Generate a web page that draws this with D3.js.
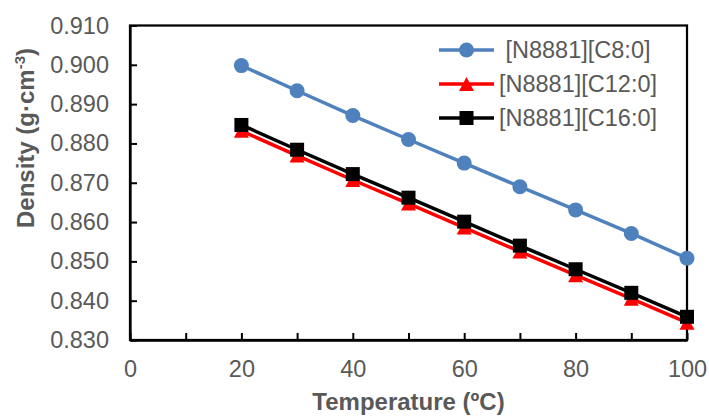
<!DOCTYPE html>
<html><head><meta charset="utf-8">
<script src="https://cdn.jsdelivr.net/npm/d3@7"></script>
<style>
html,body{margin:0;padding:0;background:#fff;}
svg{display:block;font-family:"Liberation Sans",Arial,sans-serif;}
</style></head>
<body>
<svg id="chart" width="709" height="417"></svg>
<script>
const temperatures = [20, 30, 40, 50, 60, 70, 80, 90, 100];
const densityC8 = [0.8998, 0.8934, 0.8871, 0.8810, 0.8750, 0.8690, 0.8631, 0.8571, 0.8508];
const densityC12 = [0.8832, 0.8769, 0.8707, 0.8647, 0.8586, 0.8525, 0.8465, 0.8405, 0.8344];
const densityC16 = [0.8847, 0.8784, 0.8722, 0.8662, 0.8601, 0.8540, 0.8480, 0.8420, 0.8359];
const seriesNames = ["[N8881][C8:0]", "[N8881][C12:0]", "[N8881][C16:0]"];
const xTickValues = [0, 10, 20, 30, 40, 50, 60, 70, 80, 90, 100];
const yTickValues = [0.83, 0.84, 0.85, 0.86, 0.87, 0.88, 0.89, 0.90, 0.91];
const xTitle = "Temperature (ºC)";

const svg = d3.select("#chart");
const L = 130, R = 687, T = 25.5, B = 340;
const x = d3.scaleLinear().domain([0, 100]).range([L, R]);
const y = d3.scaleLinear().domain([0.83, 0.91]).range([B, T]);
const grey = "#595959";

const series = [
  {name: seriesNames[0], values: densityC8, color: "#4F81BD", shape: "circle"},
  {name: seriesNames[1], values: densityC12, color: "#FF0000", shape: "triangle"},
  {name: seriesNames[2], values: densityC16, color: "#000000", shape: "square"}
];

// frame
svg.append("rect").attr("x", L).attr("y", T).attr("width", R - L).attr("height", B - T)
  .attr("fill", "none").attr("stroke", "#000").attr("stroke-width", 2.25);

// axes
const yAxis = d3.axisLeft(y).tickValues(yTickValues).tickFormat(d3.format(".3f"))
  .tickSizeInner(-7).tickSizeOuter(0).tickPadding(21);
const gy = svg.append("g").attr("transform", `translate(${L},0)`).call(yAxis);
gy.select(".domain").attr("stroke", "#000").attr("stroke-width", 2.25);
gy.selectAll(".tick line").attr("stroke", "#000").attr("stroke-width", 2);
gy.selectAll(".tick text").attr("fill", grey).style("font-size", "23.5px")
  .style("font-family", "'Liberation Sans',Arial,sans-serif");

const xAxis = d3.axisBottom(x).tickValues(xTickValues)
  .tickFormat(d => d % 20 === 0 ? d3.format("d")(d) : "")
  .tickSizeInner(-7).tickSizeOuter(0).tickPadding(20);
const gx = svg.append("g").attr("transform", `translate(0,${B})`).call(xAxis);
gx.select(".domain").attr("stroke", "#000").attr("stroke-width", 2.25);
gx.selectAll(".tick line").attr("stroke", "#000").attr("stroke-width", 2);
gx.selectAll(".tick text").attr("fill", grey).style("font-size", "23.5px")
  .style("font-family", "'Liberation Sans',Arial,sans-serif");

// marker drawing
function drawMarker(g, shape, color) {
  if (shape === "circle") {
    g.append("circle").attr("r", 7.5).attr("fill", color);
  } else if (shape === "square") {
    g.append("rect").attr("x", -7).attr("y", -7).attr("width", 14).attr("height", 14).attr("fill", color);
  } else {
    g.append("path").attr("d", "M0,-7 L7.5,7 L-7.5,7 Z").attr("fill", color);
  }
}

const line = d3.line().x(d => x(d[0])).y(d => y(d[1]));
series.forEach(s => {
  const pts = temperatures.map((t, i) => [t, s.values[i]]);
  svg.append("path").datum(pts).attr("d", line).attr("fill", "none")
    .attr("stroke", s.color).attr("stroke-width", 3.5).attr("stroke-linejoin", "round");
  pts.forEach(p => {
    const g = svg.append("g").attr("transform", `translate(${x(p[0])},${y(p[1])})`);
    drawMarker(g, s.shape, s.color);
  });
});

// legend
const legendY = [50, 84, 118];
series.forEach((s, i) => {
  const gl = svg.append("g").attr("transform", `translate(0,${legendY[i]})`);
  gl.append("line").attr("x1", 439).attr("x2", 494).attr("y1", 0).attr("y2", 0)
    .attr("stroke", s.color).attr("stroke-width", 3.5);
  const gm = gl.append("g").attr("transform", "translate(466.5,0)");
  drawMarker(gm, s.shape, s.color);
  gl.append("text").attr("x", 578).attr("y", 0).attr("dy", "0.36em")
    .attr("text-anchor", "middle").attr("fill", grey).style("font-size", "23.5px")
    .text(s.name);
});

// axis titles
svg.append("text").attr("x", (L + R) / 2).attr("y", 410).attr("text-anchor", "middle")
  .attr("fill", grey).style("font-size", "24px").style("font-weight", "bold").text(xTitle);

const yt = svg.append("text").attr("transform", "translate(34,138) rotate(-90)")
  .attr("text-anchor", "middle").attr("fill", grey).style("font-size", "24px").style("font-weight", "bold");
yt.append("tspan").text("Density (g·cm");
yt.append("tspan").attr("dy", -9).style("font-size", "15px").text("-3");
yt.append("tspan").attr("dy", 9).text(")");
</script>
</body></html>
